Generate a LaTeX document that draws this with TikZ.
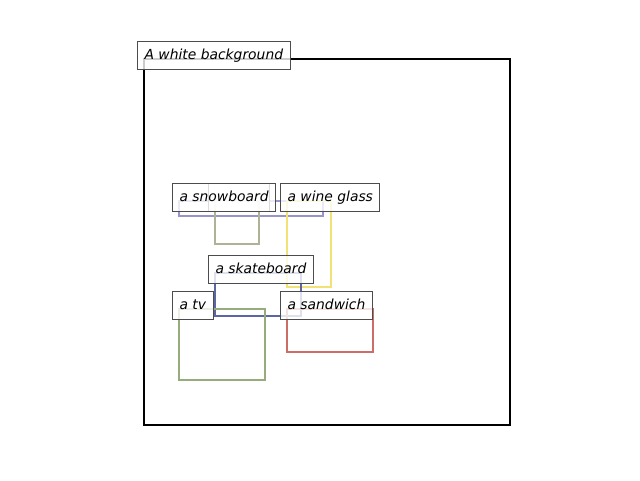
\documentclass[tikz,border=0pt]{standalone}
\usepackage{fontspec}
\setmainfont{DejaVu Sans}
\definecolor{snowc}{RGB}{154,148,204}
\definecolor{olivec}{RGB}{176,178,150}
\definecolor{winec}{RGB}{242,226,118}
\definecolor{skatec}{RGB}{92,102,163}
\definecolor{tvc}{RGB}{150,172,124}
\definecolor{sandc}{RGB}{204,110,102}
\tikzset{
  bbox/.style={line width=1.9pt},
  lbl/.style={draw=black!70, line width=0.8pt, fill=white, fill opacity=0.8,
    text opacity=1, anchor=base west, xshift=-5.25pt,
    inner xsep=5.25pt, inner ysep=5.25pt, text height=7.9pt, text depth=2.6pt,
    font=\fontsize{10.4}{12}\selectfont\itshape}
}
\begin{document}
\begin{tikzpicture}[x=0.75pt,y=-0.75pt]
\useasboundingbox (0,0) rectangle (640,480);
\coordinate (bg) at (144,59);
\coordinate (snow) at (179,201);
\coordinate (olive) at (215,201);
\coordinate (wine) at (287,201);
\coordinate (skate) at (215,273);
\coordinate (tv) at (179,309);
\coordinate (sand) at (287,309);

\draw[line width=1.5pt,black] (bg) rectangle (510,425);
\draw[bbox,snowc] (snow) rectangle (323,216);
\draw[bbox,olivec] (olive) rectangle (259,244);
\draw[bbox,winec] (wine) rectangle (331,287);
\draw[bbox,skatec] (skate) rectangle (301,316);
\draw[bbox,tvc] (tv) rectangle (265,380);
\draw[bbox,sandc] (sand) rectangle (373,352);

\node[lbl] (bglabel) at (bg) {A white background};
\node[lbl, minimum width=46pt] (olivelabel) at (olive) {};
\node[lbl] (snowlabel) at (snow) {a snowboard};
\node[lbl] (winelabel) at (wine) {a wine glass};
\node[lbl] (skatelabel) at (skate) {a skateboard};
\node[lbl] (tvlabel) at (tv) {a tv};
\node[lbl] (sandlabel) at (sand) {a sandwich};
\end{tikzpicture}
\end{document}
